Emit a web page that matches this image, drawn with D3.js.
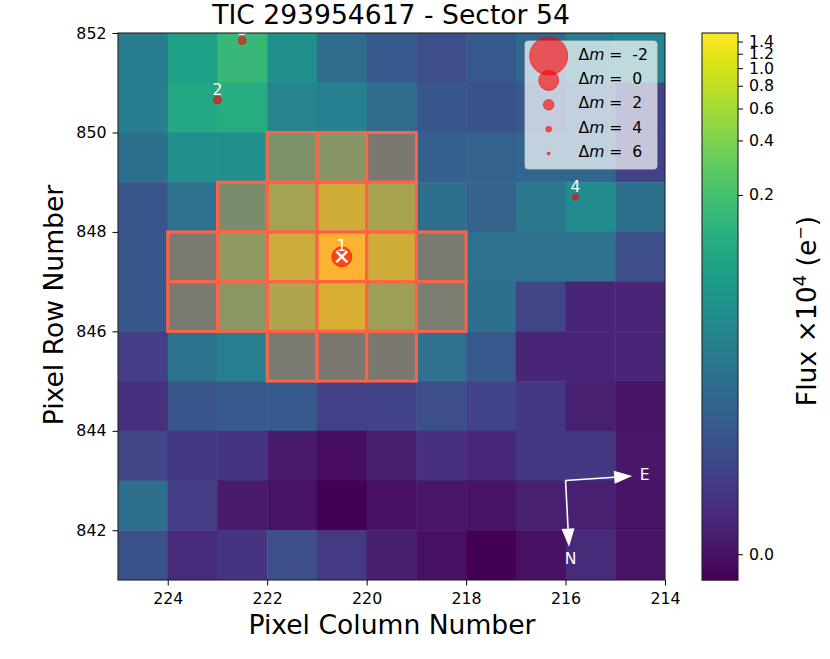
<!DOCTYPE html>
<html>
<head>
<meta charset="utf-8">
<title>TIC 293954617 - Sector 54</title>
<script src="https://cdnjs.cloudflare.com/ajax/libs/d3/7.8.5/d3.min.js"></script>
<style>
    html, body { margin:0; padding:0; background:white; }
    svg { display:block; }
    text { font-family:'DejaVu Sans', sans-serif; fill:black; }
    .tick text { font-size:15.8px; }
</style>
</head>
<body>
<div id="chart"></div>
<script>
// flux per pixel x10^4 e-, top row (852-851) first, left column (225-224) first
var row851 = [.0262,.0779,.1574,.0471,.0153,.0086,.0060,.0086,.0131,.0262,.0328];
var row850 = [.0262,.0963,.1108,.0328,.0304,.0153,.0079,.0066,.0079,.0121,.0040];
var row849 = [.0166,.0471,.0471,.1108,.1574,.0353,.0102,.0111,.0131,.0131,.0040];
var row848 = [.0072,.0179,.0963,.3161,.6788,.3392,.0166,.0111,.0226,.0407,.0166];
var row847 = [.0079,.0379,.1943,.6328,1.5594,.6788,.0407,.0179,.0179,.0179,.0060];
var row846 = [.0079,.0407,.1688,.3894,.7794,.2752,.0471,.0166,.0045,.0010,.0010];
var row845 = [.0033,.0194,.0283,.0379,.0353,.0353,.0179,.0086,.0010,.0010,.0010];
var row844 = [.0019,.0072,.0086,.0086,.0036,.0040,.0060,.0040,.0026,.0007,.0000];
var row843 = [.0045,.0026,.0022,.0004,-.0002,.0006,.0019,.0012,.0026,.0026,.0002];
var row842 = [.0166,.0033,.0004,.0000,-.0006,-.0001,.0002,.0001,.0007,.0007,.0000];
var row841 = [.0066,.0014,.0022,.0060,.0029,.0006,-.0001,-.0006,-.0001,.0014,.0000];
var fluxRows = [row851,row850,row849,row848,row847,row846,row845,row844,row843,row842,row841];
var rowNumbers = [851,850,849,848,847,846,845,844,843,842,841];
var columnNumbers = [225,224,223,222,221,220,219,218,217,216,215];

// aperture: lower row number -> columns (left edge number)
var apertureRows = [
    {row:849, cols:[222,221,220]},
    {row:848, cols:[223,222,221,220]},
    {row:847, cols:[224,223,222,221,220,219]},
    {row:846, cols:[224,223,222,221,220,219]},
    {row:845, cols:[222,221,220]}
];

var stars = [
    {label:'1', col:220.5, row:847.5, dm:0},
    {label:'2', col:223.0, row:850.65, dm:2.9},
    {label:'3', col:222.5, row:851.85, dm:2.9},
    {label:'4', col:215.8, row:848.7, dm:3.8}
];
var legendMags = [-2,0,2,4,6];
var xTicks = [224,222,220,218,216,214];
var yTicks = [842,844,846,848,850,852];
var barTicks = [0.0,0.2,0.4,0.6,0.8,1.0,1.2,1.4];
var fluxMin = -0.0006, fluxMax = 1.56;
var compass = {col:216.0, row:843.0, eastCol:214.66, eastRow:843.09, northCol:215.93, northRow:841.67};

var svg = d3.select('#chart').append('svg').attr('width',830).attr('height',659);

var left = 118, right = 665, top_ = 33, bottom = 580;
var x = d3.scaleLinear().domain([225,214]).range([left,right]);
var y = d3.scaleLinear().domain([841,852]).range([bottom,top_]);

// log stretch of the colour normalisation (a=1000)
var stretch = d3.scaleSymlog().constant((fluxMax-fluxMin)/1000).domain([0,fluxMax-fluxMin]).range([0,1]);
function fluxColor(v) { return d3.interpolateViridis(stretch(v-fluxMin)); }
function markerRadius(dm) { return 10*Math.pow(1.9,-dm/2); }

svg.append('defs').append('clipPath').attr('id','axes-clip').append('rect')
    .attr('x',left).attr('y',top_).attr('width',right-left).attr('height',bottom-top_);

var plot = svg.append('g').attr('clip-path','url(#axes-clip)');

// image
fluxRows.forEach(function(values, i) {
    plot.append('g').selectAll('rect').data(values).enter().append('rect')
        .attr('x',function(d,j) { return x(columnNumbers[j]); })
        .attr('y',y(rowNumbers[i]+1))
        .attr('width',x(214)-x(215)+0.5)
        .attr('height',y(841)-y(842)+0.5)
        .attr('fill',function(d) { return fluxColor(d); });
});

// aperture
var apertureCells = [];
apertureRows.forEach(function(r) {
    r.cols.forEach(function(c) { apertureCells.push({col:c, row:r.row}); });
});
var apertureGroup = plot.append('g');
function apertureRect(sel) {
    return sel.selectAll('rect').data(apertureCells).enter().append('rect')
        .attr('x',function(d) { return x(d.col); })
        .attr('y',function(d) { return y(d.row+1); })
        .attr('width',x(214)-x(215))
        .attr('height',y(841)-y(842));
}
apertureRect(apertureGroup.append('g')).attr('fill','tomato').attr('fill-opacity',0.4);
apertureRect(apertureGroup.append('g')).attr('fill','none').attr('stroke','tomato').attr('stroke-width',3);

// stars
plot.selectAll('circle.star').data(stars).enter().append('circle')
    .attr('class','star')
    .attr('cx',function(d) { return x(d.col); })
    .attr('cy',function(d) { return y(d.row); })
    .attr('r',function(d) { return markerRadius(d.dm); })
    .attr('fill','red').attr('fill-opacity',0.6)
    .attr('stroke','red').attr('stroke-opacity',0.6);

plot.selectAll('text.star-label').data(stars).enter().append('text')
    .attr('class','star-label')
    .attr('x',function(d) { return x(d.col); })
    .attr('y',function(d) { return y(d.row)-5.5; })
    .attr('text-anchor','middle')
    .attr('font-size',15.6)
    .style('fill','white')
    .text(function(d) { return d.label; });

// target cross
var target = stars[0];
var crossSize = 5.5;
[[-1,-1,1,1],[-1,1,1,-1]].forEach(function(c) {
    plot.append('line')
        .attr('x1',x(target.col)+c[0]*crossSize).attr('y1',y(target.row)+c[1]*crossSize)
        .attr('x2',x(target.col)+c[2]*crossSize).attr('y2',y(target.row)+c[3]*crossSize)
        .attr('stroke','white').attr('stroke-width',2.4);
});

// compass
function arrow(endCol, endRow, name, labelCol, labelRow) {
    var x0 = x(compass.col), y0 = y(compass.row), x1 = x(endCol), y1 = y(endRow);
    var len = Math.sqrt((x1-x0)*(x1-x0)+(y1-y0)*(y1-y0));
    var ux = (x1-x0)/len, uy = (y1-y0)/len;
    var bx = x1-ux*18, by = y1-uy*18;
    plot.append('line').attr('x1',x0).attr('y1',y0).attr('x2',bx).attr('y2',by)
        .attr('stroke','white').attr('stroke-width',1.6);
    plot.append('path')
        .attr('d','M'+x1+','+y1+'L'+(bx-uy*6.5)+','+(by+ux*6.5)+'L'+(bx+uy*6.5)+','+(by-ux*6.5)+'Z')
        .attr('fill','white');
    plot.append('text').attr('x',x(labelCol)).attr('y',y(labelRow))
        .attr('text-anchor','middle').attr('dominant-baseline','central')
        .attr('font-size',15.6).style('fill','white').text(name);
}
arrow(compass.eastCol, compass.eastRow, 'E', 214.41, 843.12);
arrow(compass.northCol, compass.northRow, 'N', 215.9, 841.43);

// legend
var legend = svg.append('g');
legend.append('rect').attr('x',525).attr('y',41).attr('width',132).attr('height',128).attr('rx',3)
    .attr('fill','white').attr('fill-opacity',0.7).attr('stroke','#cccccc').attr('stroke-opacity',0.8);
var legendY = d3.scaleLinear().domain([-2,6]).range([56,153.5]);
legend.selectAll('circle').data(legendMags).enter().append('circle')
    .attr('cx',548.7)
    .attr('cy',function(d) { return legendY(d); })
    .attr('r',function(d) { return markerRadius(d); })
    .attr('fill','red').attr('fill-opacity',0.6)
    .attr('stroke','red').attr('stroke-opacity',0.6);
var legendText = legend.selectAll('text').data(legendMags).enter().append('text')
    .attr('x',578.5)
    .attr('y',function(d) { return legendY(d)+3.6; })
    .attr('font-size',15.6)
    .attr('xml:space','preserve');
legendText.append('tspan').text('\u0394');
legendText.append('tspan').attr('font-style','italic').text('m');
legendText.append('tspan').text(function(d) { return ' =  '+d; });

// axes
var xAxis = d3.axisBottom(x).tickValues(xTicks).tickSize(5.5).tickPadding(7.5).tickFormat(d3.format('d'));
var yAxis = d3.axisLeft(y).tickValues(yTicks).tickSize(5.5).tickPadding(6).tickFormat(d3.format('d'));
svg.append('g').attr('transform','translate(0,'+bottom+')').call(xAxis);
svg.append('g').attr('transform','translate('+left+',0)').call(yAxis);
svg.append('rect').attr('x',left).attr('y',top_).attr('width',right-left).attr('height',bottom-top_)
    .attr('fill','none').attr('stroke','#222').attr('stroke-width',1.1);

svg.append('text').attr('x',391).attr('y',24).attr('text-anchor','middle').attr('font-size',26.6)
    .text('TIC 293954617 - Sector 54');
svg.append('text').attr('x',392).attr('y',634).attr('text-anchor','middle').attr('font-size',26.6)
    .text('Pixel Column Number');
svg.append('text').attr('transform','translate(62.5,305) rotate(-90)').attr('text-anchor','middle').attr('font-size',26.6)
    .text('Pixel Row Number');

// colour bar
var barLeft = 702, barRight = 738;
var barScale = d3.scaleSymlog().constant((fluxMax-fluxMin)/1000).domain([0,fluxMax-fluxMin]).range([bottom,top_]);
var barSteps = d3.range(bottom-top_);
svg.append('g').selectAll('rect').data(barSteps).enter().append('rect')
    .attr('x',barLeft).attr('width',barRight-barLeft)
    .attr('y',function(d) { return bottom-d-1; })
    .attr('height',1.5)
    .attr('fill',function(d) { return d3.interpolateViridis((d+0.5)/(bottom-top_)); });
svg.append('rect').attr('x',barLeft).attr('y',top_).attr('width',barRight-barLeft).attr('height',bottom-top_)
    .attr('fill','none').attr('stroke','#222').attr('stroke-width',1.1);
var barAxis = d3.axisRight(barScale)
    .tickValues(barTicks.map(function(v) { return v-fluxMin; }))
    .tickSize(5).tickPadding(6)
    .tickFormat(function(v) { return (v+fluxMin).toFixed(1); });
var barAxisGroup = svg.append('g').attr('transform','translate('+barRight+',0)').call(barAxis);
barAxisGroup.select('.domain').remove();

var barLabel = svg.append('text').attr('transform','translate(816,311) rotate(-90)')
    .attr('text-anchor','middle').attr('font-size',26.6);
barLabel.append('tspan').text('Flux \u00d710');
barLabel.append('tspan').attr('dy',-10).attr('font-size',18).text('4');
barLabel.append('tspan').attr('dy',10).text(' (e');
barLabel.append('tspan').attr('dy',-10).attr('font-size',16).text('\u2212');
barLabel.append('tspan').attr('dy',10).text(')');

svg.selectAll('.domain').attr('stroke','none');
</script>
</body>
</html>
